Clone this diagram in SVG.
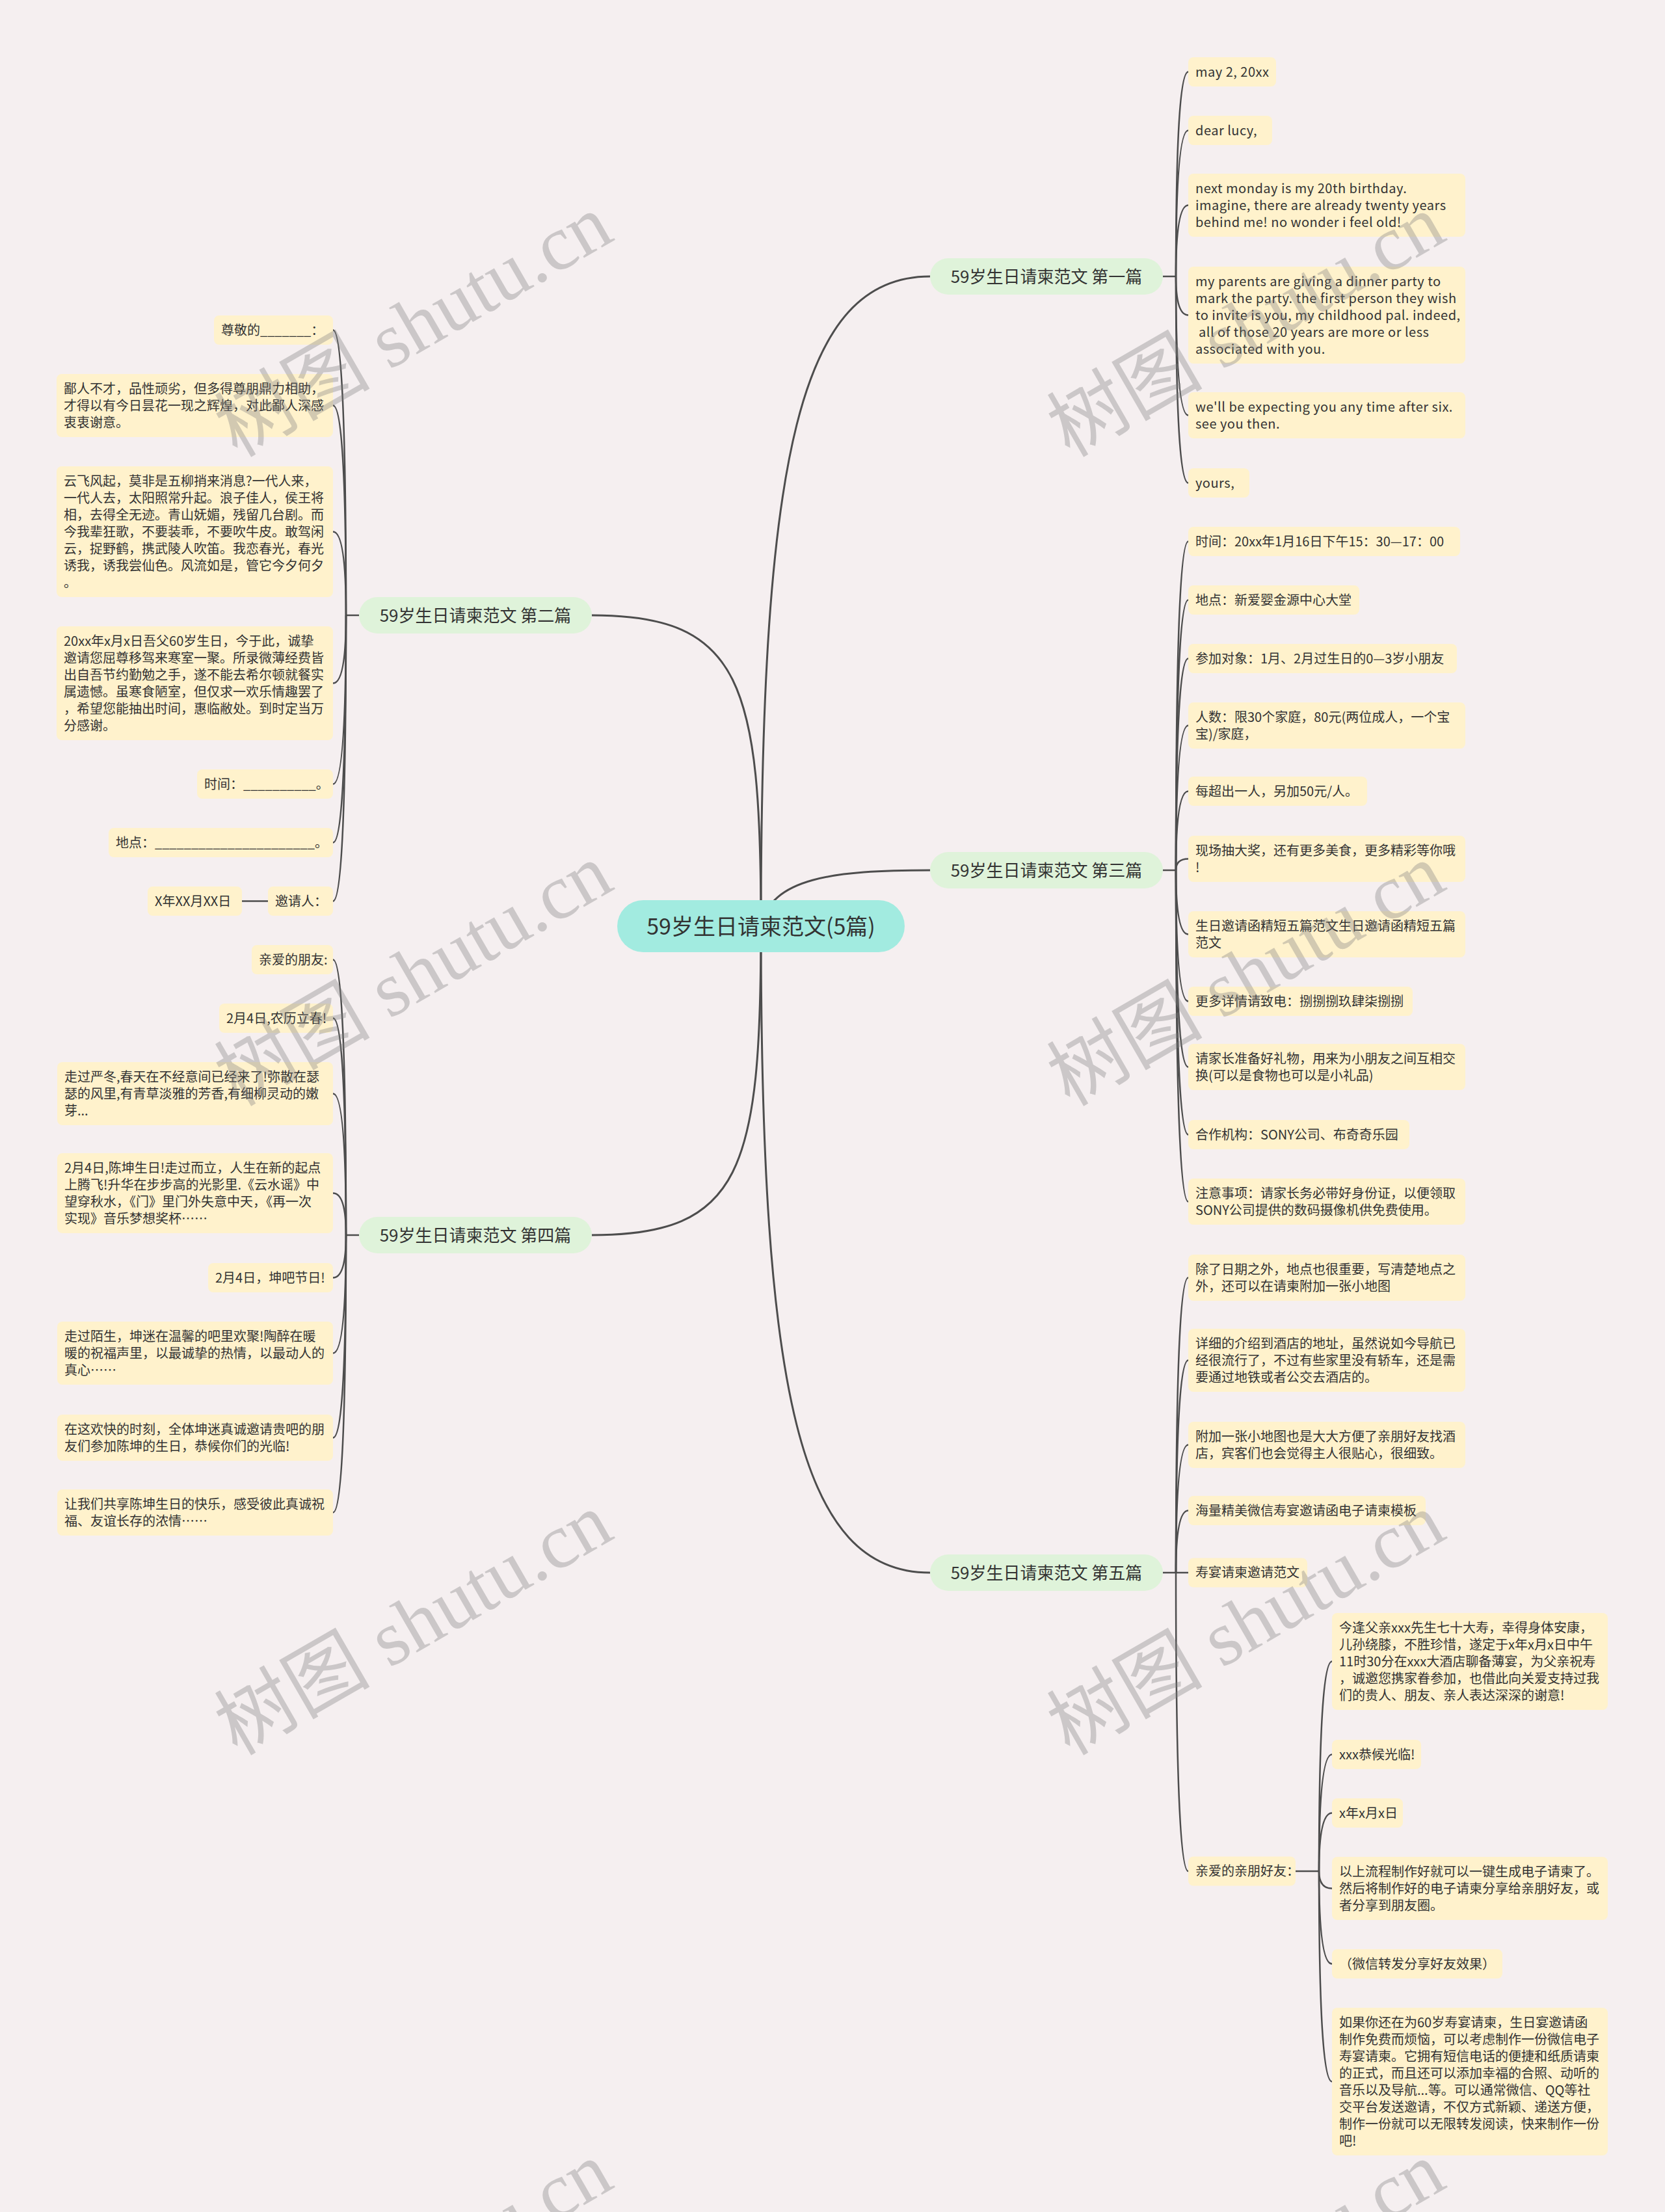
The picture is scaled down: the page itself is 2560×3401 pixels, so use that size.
<svg xmlns="http://www.w3.org/2000/svg" width="2560" height="3401" viewBox="0 0 2560 3401">
<style>
.bg{fill:#f5eff0}
.leaf rect{fill:#fff2cc}
.t{font-family:"Noto Sans CJK SC","Noto Sans",sans-serif;font-size:20px;fill:#333333}
.en{letter-spacing:0.5px}
.br rect{fill:#dff3da}
.bt{font-family:"Noto Sans CJK SC","Noto Sans",sans-serif;font-size:26px;fill:#333333;text-anchor:middle}
.root rect{fill:#a2ebe0}
.rt{font-family:"Noto Sans CJK SC","Noto Sans",sans-serif;font-size:34px;fill:#333333;text-anchor:middle}
.c path{fill:none;stroke:#4d4d4d;stroke-width:2.5}
.c .m{stroke-width:3}
.wm{font-family:"Liberation Serif","Noto Sans CJK SC",serif;font-size:120px;fill:#7d7d7d;fill-opacity:0.35;text-anchor:middle}
</style>
<rect class="bg" x="0" y="0" width="2560" height="3401"/>

<g id="connectors" class="c">
<path class="m" d="M1170,1424 C1170,700 1230,425 1430,425"/>
<path class="m" d="M1170,1424 C1185,1350 1280,1338 1430,1338"/>
<path class="m" d="M1170,1424 C1170,2144 1230,2418 1430,2418"/>
<path class="m" d="M1170,1424 C1170,1050 1140,946 910,946"/>
<path class="m" d="M1170,1424 C1170,1800 1140,1899 910,1899"/>
<!-- branch 1 -->
<path d="M1788,425 H1808"/>
<path d="M1808,425 Q1808,110.5 1827,110.5"/>
<path d="M1808,425 Q1808,200.5 1827,200.5"/>
<path d="M1808,425 Q1808,315.5 1827,315.5"/>
<path d="M1808,425 Q1808,484.5 1827,484.5"/>
<path d="M1808,425 Q1808,638.5 1827,638.5"/>
<path d="M1808,425 Q1808,742.5 1827,742.5"/>
<!-- branch 3 -->
<path d="M1788,1338 H1808"/>
<path d="M1808,1338 Q1808,832.5 1827,832.5"/>
<path d="M1808,1338 Q1808,922.5 1827,922.5"/>
<path d="M1808,1338 Q1808,1012.5 1827,1012.5"/>
<path d="M1808,1338 Q1808,1115.5 1827,1115.5"/>
<path d="M1808,1338 Q1808,1216.5 1827,1216.5"/>
<path d="M1808,1338 Q1808,1320.5 1827,1320.5"/>
<path d="M1808,1338 Q1808,1436.5 1827,1436.5"/>
<path d="M1808,1338 Q1808,1539.5 1827,1539.5"/>
<path d="M1808,1338 Q1808,1640.5 1827,1640.5"/>
<path d="M1808,1338 Q1808,1744.5 1827,1744.5"/>
<path d="M1808,1338 Q1808,1847.5 1827,1847.5"/>
<!-- branch 5 -->
<path d="M1788,2418 H1827"/>
<path d="M1808,2418 Q1808,1964.5 1827,1964.5"/>
<path d="M1808,2418 Q1808,2091.5 1827,2091.5"/>
<path d="M1808,2418 Q1808,2221.5 1827,2221.5"/>
<path d="M1808,2418 Q1808,2322.5 1827,2322.5"/>
<path d="M1808,2418 Q1808,2877 1827,2877"/>
<path d="M1992,2877 H2028"/>
<path d="M2028,2877 Q2028,2554.5 2048,2554.5"/>
<path d="M2028,2877 Q2028,2697.5 2048,2697.5"/>
<path d="M2028,2877 Q2028,2787.5 2048,2787.5"/>
<path d="M2028,2877 Q2028,2903.5 2048,2903.5"/>
<path d="M2028,2877 Q2028,3019.5 2048,3019.5"/>
<path d="M2028,2877 Q2028,3200.5 2048,3200.5"/>
<!-- branch 2 -->
<path d="M552,946 H532"/>
<path d="M532,946 Q532,507.5 512,507.5"/>
<path d="M532,946 Q532,623.5 512,623.5"/>
<path d="M532,946 Q532,817.5 512,817.5"/>
<path d="M532,946 Q532,1050.5 512,1050.5"/>
<path d="M532,946 Q532,1205.5 512,1205.5"/>
<path d="M532,946 Q532,1295.5 512,1295.5"/>
<path d="M532,946 Q532,1385.5 512,1385.5"/>
<path d="M412,1385.5 H372"/>
<!-- branch 4 -->
<path d="M552,1899 H532"/>
<path d="M532,1899 Q532,1475.5 512,1475.5"/>
<path d="M532,1899 Q532,1565.5 512,1565.5"/>
<path d="M532,1899 Q532,1681.5 512,1681.5"/>
<path d="M532,1899 Q532,1834.5 512,1834.5"/>
<path d="M532,1899 Q532,1964.5 512,1964.5"/>
<path d="M532,1899 Q532,2080.5 512,2080.5"/>
<path d="M532,1899 Q532,2210.5 512,2210.5"/>
<path d="M532,1899 Q532,2325.5 512,2325.5"/>
</g>

<g id="root" class="root"><rect x="949" y="1384" width="442" height="80" rx="40"/><text class="rt" x="1170" y="1437">59岁生日请柬范文(5篇)</text></g>

<g id="b1" class="br"><rect x="1430" y="397" width="358" height="56" rx="28"/><text class="bt" x="1609" y="435">59岁生日请柬范文 第一篇</text></g>
<g id="b3" class="br"><rect x="1430" y="1310" width="358" height="56" rx="28"/><text class="bt" x="1609" y="1348">59岁生日请柬范文 第三篇</text></g>
<g id="b5" class="br"><rect x="1430" y="2390" width="358" height="56" rx="28"/><text class="bt" x="1609" y="2428">59岁生日请柬范文 第五篇</text></g>
<g id="b2" class="br"><rect x="552" y="918" width="358" height="56" rx="28"/><text class="bt" x="731" y="956">59岁生日请柬范文 第二篇</text></g>
<g id="b4" class="br"><rect x="552" y="1871" width="358" height="56" rx="28"/><text class="bt" x="731" y="1909">59岁生日请柬范文 第四篇</text></g>

<!-- branch 1 leaves -->
<g id="n1a" class="leaf"><rect x="1827" y="88" width="135" height="45" rx="8"/><text class="t en" x="1838" y="117.5">may 2, 20xx</text></g>
<g id="n1b" class="leaf"><rect x="1827" y="178" width="129" height="45" rx="8"/><text class="t en" x="1838" y="207.5">dear lucy,</text></g>
<g id="n1c" class="leaf"><rect x="1827" y="267" width="426" height="97" rx="8"/><text class="t en"><tspan x="1838" y="296.5">next monday is my 20th birthday.</tspan><tspan x="1838" y="322.5">imagine, there are already twenty years</tspan><tspan x="1838" y="348.5">behind me! no wonder i feel old!</tspan></text></g>
<g id="n1d" class="leaf"><rect x="1827" y="410" width="426" height="149" rx="8"/><text class="t en"><tspan x="1838" y="439.5">my parents are giving a dinner party to</tspan><tspan x="1838" y="465.5">mark the party. the first person they wish</tspan><tspan x="1838" y="491.5">to invite is you, my childhood pal. indeed,</tspan><tspan x="1838" y="517.5" xml:space="preserve"> all of those 20 years are more or less</tspan><tspan x="1838" y="543.5">associated with you.</tspan></text></g>
<g id="n1e" class="leaf"><rect x="1827" y="603" width="426" height="71" rx="8"/><text class="t en"><tspan x="1838" y="632.5">we'll be expecting you any time after six.</tspan><tspan x="1838" y="658.5">see you then.</tspan></text></g>
<g id="n1f" class="leaf"><rect x="1827" y="720" width="94" height="45" rx="8"/><text class="t en" x="1838" y="749.5">yours,</text></g>

<!-- branch 3 leaves -->
<g id="n3a" class="leaf"><rect x="1827" y="810" width="418" height="45" rx="8"/><text class="t" x="1838" y="839.5">时间：20xx年1月16日下午15：30—17：00</text></g>
<g id="n3b" class="leaf"><rect x="1827" y="900" width="263" height="45" rx="8"/><text class="t" x="1838" y="929.5">地点：新爱婴金源中心大堂</text></g>
<g id="n3c" class="leaf"><rect x="1827" y="990" width="413" height="45" rx="8"/><text class="t" x="1838" y="1019.5">参加对象：1月、2月过生日的0—3岁小朋友</text></g>
<g id="n3d" class="leaf"><rect x="1827" y="1080" width="426" height="71" rx="8"/><text class="t"><tspan x="1838" y="1109.5">人数：限30个家庭，80元(两位成人，一个宝</tspan><tspan x="1838" y="1135.5">宝)/家庭，</tspan></text></g>
<g id="n3e" class="leaf"><rect x="1827" y="1194" width="275" height="45" rx="8"/><text class="t" x="1838" y="1223.5">每超出一人，另加50元/人。</text></g>
<g id="n3f" class="leaf"><rect x="1827" y="1285" width="426" height="71" rx="8"/><text class="t"><tspan x="1838" y="1314.5">现场抽大奖，还有更多美食，更多精彩等你哦</tspan><tspan x="1838" y="1340.5">!</tspan></text></g>
<g id="n3g" class="leaf"><rect x="1827" y="1401" width="426" height="71" rx="8"/><text class="t"><tspan x="1838" y="1430.5">生日邀请函精短五篇范文生日邀请函精短五篇</tspan><tspan x="1838" y="1456.5">范文</tspan></text></g>
<g id="n3h" class="leaf"><rect x="1827" y="1517" width="345" height="45" rx="8"/><text class="t" x="1838" y="1546.5">更多详情请致电：捌捌捌玖肆柒捌捌</text></g>
<g id="n3i" class="leaf"><rect x="1827" y="1605" width="426" height="71" rx="8"/><text class="t"><tspan x="1838" y="1634.5">请家长准备好礼物，用来为小朋友之间互相交</tspan><tspan x="1838" y="1660.5">换(可以是食物也可以是小礼品)</tspan></text></g>
<g id="n3j" class="leaf"><rect x="1827" y="1722" width="340" height="45" rx="8"/><text class="t" x="1838" y="1751.5">合作机构：SONY公司、布奇奇乐园</text></g>
<g id="n3k" class="leaf"><rect x="1827" y="1812" width="426" height="71" rx="8"/><text class="t"><tspan x="1838" y="1841.5">注意事项：请家长务必带好身份证，以便领取</tspan><tspan x="1838" y="1867.5">SONY公司提供的数码摄像机供免费使用。</tspan></text></g>

<!-- branch 5 leaves -->
<g id="n5a" class="leaf"><rect x="1827" y="1929" width="426" height="71" rx="8"/><text class="t"><tspan x="1838" y="1958.5">除了日期之外，地点也很重要，写清楚地点之</tspan><tspan x="1838" y="1984.5">外，还可以在请柬附加一张小地图</tspan></text></g>
<g id="n5b" class="leaf"><rect x="1827" y="2043" width="426" height="97" rx="8"/><text class="t"><tspan x="1838" y="2072.5">详细的介绍到酒店的地址，虽然说如今导航已</tspan><tspan x="1838" y="2098.5">经很流行了，不过有些家里没有轿车，还是需</tspan><tspan x="1838" y="2124.5">要通过地铁或者公交去酒店的。</tspan></text></g>
<g id="n5c" class="leaf"><rect x="1827" y="2186" width="426" height="71" rx="8"/><text class="t"><tspan x="1838" y="2215.5">附加一张小地图也是大大方便了亲朋好友找酒</tspan><tspan x="1838" y="2241.5">店，宾客们也会觉得主人很贴心，很细致。</tspan></text></g>
<g id="n5d" class="leaf"><rect x="1827" y="2300" width="365" height="45" rx="8"/><text class="t" x="1838" y="2329.5">海量精美微信寿宴邀请函电子请柬模板</text></g>
<g id="n5e" class="leaf"><rect x="1827" y="2395.5" width="183" height="45" rx="8"/><text class="t" x="1838" y="2425">寿宴请柬邀请范文</text></g>
<g id="n5f" class="leaf"><rect x="1827" y="2854.5" width="165" height="45" rx="8"/><text class="t" x="1838" y="2884">亲爱的亲朋好友：</text></g>
<g id="s1" class="leaf"><rect x="2048" y="2480" width="424" height="149" rx="8"/><text class="t"><tspan x="2059" y="2509.5">今逢父亲xxx先生七十大寿，幸得身体安康，</tspan><tspan x="2059" y="2535.5">儿孙绕膝，不胜珍惜，遂定于x年x月x日中午</tspan><tspan x="2059" y="2561.5">11时30分在xxx大酒店聊备薄宴，为父亲祝寿</tspan><tspan x="2059" y="2587.5">，诚邀您携家眷参加，也借此向关爱支持过我</tspan><tspan x="2059" y="2613.5">们的贵人、朋友、亲人表达深深的谢意!</tspan></text></g>
<g id="s2" class="leaf"><rect x="2048" y="2675" width="137" height="45" rx="8"/><text class="t" x="2059" y="2704.5">xxx恭候光临!</text></g>
<g id="s3" class="leaf"><rect x="2048" y="2765" width="109" height="45" rx="8"/><text class="t" x="2059" y="2794.5">x年x月x日</text></g>
<g id="s4" class="leaf"><rect x="2048" y="2855" width="424" height="97" rx="8"/><text class="t"><tspan x="2059" y="2884.5">以上流程制作好就可以一键生成电子请柬了。</tspan><tspan x="2059" y="2910.5">然后将制作好的电子请柬分享给亲朋好友，或</tspan><tspan x="2059" y="2936.5">者分享到朋友圈。</tspan></text></g>
<g id="s5" class="leaf"><rect x="2048" y="2997" width="262" height="45" rx="8"/><text class="t" x="2059" y="3026.5">（微信转发分享好友效果）</text></g>
<g id="s6" class="leaf"><rect x="2048" y="3087" width="424" height="227" rx="8"/><text class="t"><tspan x="2059" y="3116.5">如果你还在为60岁寿宴请柬，生日宴邀请函</tspan><tspan x="2059" y="3142.5">制作免费而烦恼，可以考虑制作一份微信电子</tspan><tspan x="2059" y="3168.5">寿宴请柬。它拥有短信电话的便捷和纸质请柬</tspan><tspan x="2059" y="3194.5">的正式，而且还可以添加幸福的合照、动听的</tspan><tspan x="2059" y="3220.5">音乐以及导航...等。可以通常微信、QQ等社</tspan><tspan x="2059" y="3246.5">交平台发送邀请，不仅方式新颖、递送方便，</tspan><tspan x="2059" y="3272.5">制作一份就可以无限转发阅读，快来制作一份</tspan><tspan x="2059" y="3298.5">吧!</tspan></text></g>

<!-- branch 2 leaves -->
<g id="l2a" class="leaf"><rect x="329" y="485" width="183" height="45" rx="8"/><text class="t" x="340" y="514.5">尊敬的_______：</text></g>
<g id="l2b" class="leaf"><rect x="87" y="575" width="425" height="97" rx="8"/><text class="t"><tspan x="98" y="604.5">鄙人不才，品性顽劣，但多得尊朋鼎力相助，</tspan><tspan x="98" y="630.5">才得以有今日昙花一现之辉煌，对此鄙人深感</tspan><tspan x="98" y="656.5">衷衷谢意。</tspan></text></g>
<g id="l2c" class="leaf"><rect x="87" y="717" width="425" height="201" rx="8"/><text class="t"><tspan x="98" y="746.5">云飞风起，莫非是五柳捎来消息?一代人来，</tspan><tspan x="98" y="772.5">一代人去，太阳照常升起。浪子佳人，侯王将</tspan><tspan x="98" y="798.5">相，去得全无迹。青山妩媚，残留几台剧。而</tspan><tspan x="98" y="824.5">今我辈狂歌，不要装乖，不要吹牛皮。敢驾闲</tspan><tspan x="98" y="850.5">云，捉野鹤，携武陵人吹笛。我恋春光，春光</tspan><tspan x="98" y="876.5">诱我，诱我尝仙色。风流如是，管它今夕何夕</tspan><tspan x="98" y="902.5">。</tspan></text></g>
<g id="l2d" class="leaf"><rect x="87" y="963" width="425" height="175" rx="8"/><text class="t"><tspan x="98" y="992.5">20xx年x月x日吾父60岁生日，今于此，诚挚</tspan><tspan x="98" y="1018.5">邀请您屈尊移驾来寒室一聚。所录微薄经费皆</tspan><tspan x="98" y="1044.5">出自吾节约勤勉之手，遂不能去希尔顿就餐实</tspan><tspan x="98" y="1070.5">属遗憾。虽寒食陋室，但仅求一欢乐情趣罢了</tspan><tspan x="98" y="1096.5">，希望您能抽出时间，惠临敝处。到时定当万</tspan><tspan x="98" y="1122.5">分感谢。</tspan></text></g>
<g id="l2e" class="leaf"><rect x="303" y="1183" width="209" height="45" rx="8"/><text class="t" x="314" y="1212.5">时间：__________。</text></g>
<g id="l2f" class="leaf"><rect x="167" y="1273" width="345" height="45" rx="8"/><text class="t" x="178" y="1302.5">地点：______________________。</text></g>
<g id="l2g" class="leaf"><rect x="412" y="1363" width="100" height="45" rx="8"/><text class="t" x="423" y="1392.5">邀请人：</text></g>
<g id="l2h" class="leaf"><rect x="227" y="1363" width="145" height="45" rx="8"/><text class="t" x="238" y="1392.5">X年XX月XX日</text></g>

<!-- branch 4 leaves -->
<g id="l4a" class="leaf"><rect x="387" y="1453" width="125" height="45" rx="8"/><text class="t" x="398" y="1482.5">亲爱的朋友:</text></g>
<g id="l4b" class="leaf"><rect x="337" y="1543" width="175" height="45" rx="8"/><text class="t" x="348" y="1572.5">2月4日,农历立春!</text></g>
<g id="l4c" class="leaf"><rect x="88" y="1633" width="424" height="97" rx="8"/><text class="t"><tspan x="99" y="1662.5">走过严冬,春天在不经意间已经来了!弥散在瑟</tspan><tspan x="99" y="1688.5">瑟的风里,有青草淡雅的芳香,有细柳灵动的嫩</tspan><tspan x="99" y="1714.5">芽...</tspan></text></g>
<g id="l4d" class="leaf"><rect x="88" y="1773" width="424" height="123" rx="8"/><text class="t"><tspan x="99" y="1802.5">2月4日,陈坤生日!走过而立，人生在新的起点</tspan><tspan x="99" y="1828.5">上腾飞!升华在步步高的光影里.《云水谣》中</tspan><tspan x="99" y="1854.5">望穿秋水，《门》里门外失意中天，《再一次</tspan><tspan x="99" y="1880.5">实现》音乐梦想奖杯……</tspan></text></g>
<g id="l4e" class="leaf"><rect x="320" y="1942" width="192" height="45" rx="8"/><text class="t" x="331" y="1971.5">2月4日，坤吧节日!</text></g>
<g id="l4f" class="leaf"><rect x="88" y="2032" width="424" height="97" rx="8"/><text class="t"><tspan x="99" y="2061.5">走过陌生，坤迷在温馨的吧里欢聚!陶醉在暖</tspan><tspan x="99" y="2087.5">暖的祝福声里，以最诚挚的热情，以最动人的</tspan><tspan x="99" y="2113.5">真心……</tspan></text></g>
<g id="l4g" class="leaf"><rect x="88" y="2175" width="424" height="71" rx="8"/><text class="t"><tspan x="99" y="2204.5">在这欢快的时刻，全体坤迷真诚邀请贵吧的朋</tspan><tspan x="99" y="2230.5">友们参加陈坤的生日，恭候你们的光临!</tspan></text></g>
<g id="l4h" class="leaf"><rect x="88" y="2290" width="424" height="71" rx="8"/><text class="t"><tspan x="99" y="2319.5">让我们共享陈坤生日的快乐，感受彼此真诚祝</tspan><tspan x="99" y="2345.5">福、友谊长存的浓情……</tspan></text></g>

<g id="watermarks">
<text class="wm" x="656" y="536" transform="rotate(-30 656 536)">树图 shutu.cn</text>
<text class="wm" x="656" y="1534" transform="rotate(-30 656 1534)">树图 shutu.cn</text>
<text class="wm" x="656" y="2532" transform="rotate(-30 656 2532)">树图 shutu.cn</text>
<text class="wm" x="656" y="3530" transform="rotate(-30 656 3530)">树图 shutu.cn</text>
<text class="wm" x="1936" y="536" transform="rotate(-30 1936 536)">树图 shutu.cn</text>
<text class="wm" x="1936" y="1534" transform="rotate(-30 1936 1534)">树图 shutu.cn</text>
<text class="wm" x="1936" y="2532" transform="rotate(-30 1936 2532)">树图 shutu.cn</text>
<text class="wm" x="1936" y="3530" transform="rotate(-30 1936 3530)">树图 shutu.cn</text>
</g>
</svg>
